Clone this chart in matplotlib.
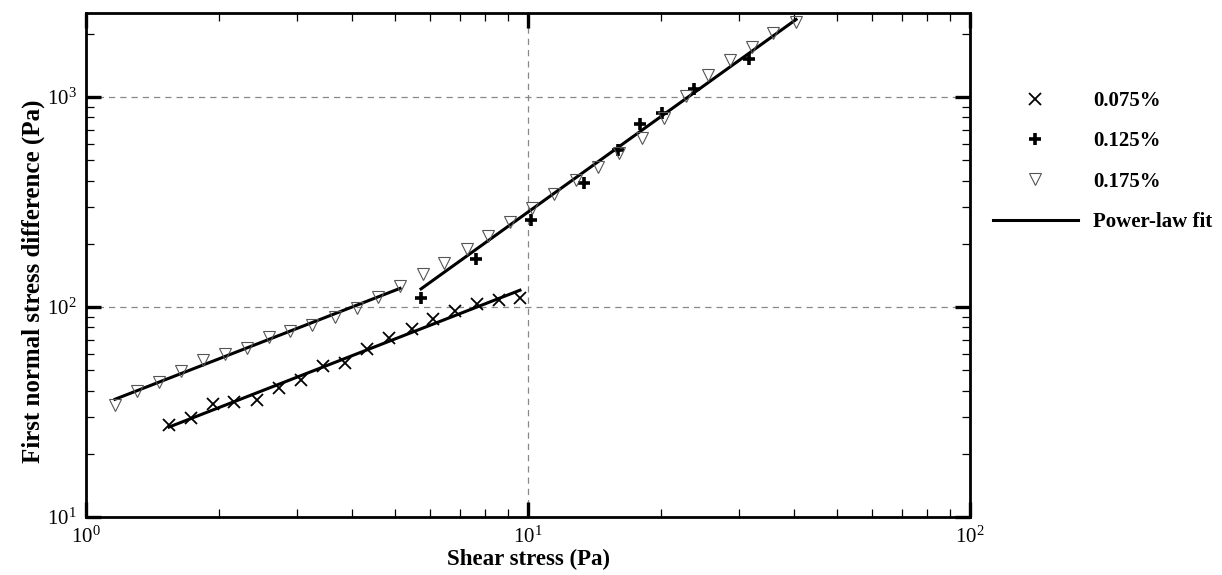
import matplotlib.pyplot as plt
import numpy as np
from matplotlib.lines import Line2D
from matplotlib.ticker import LogLocator, LogFormatterSciNotation

plt.rcParams['font.family'] = ['Liberation Serif', 'DejaVu Serif']
plt.rcParams['mathtext.fontset'] = 'stix'

# 0.075 %
x1 = np.array([1.541, 1.728, 1.939, 2.162, 2.437, 2.733, 3.065, 3.438, 3.855,
               4.323, 4.849, 5.47, 6.10, 6.84, 7.665, 8.60, 9.59])
y1 = np.array([27.4, 29.6, 34.5, 35.3, 36.1, 41.2, 44.9, 52.4, 54.1,
               63.1, 71.2, 78.6, 87.7, 95.7, 103.3, 108.0, 110.4])

# 0.125 %
x2 = np.array([5.727, 7.627, 10.16, 13.39, 15.98, 17.92, 20.10, 23.74, 31.62])
y2 = np.array([110.4, 169.3, 259.7, 389.5, 559.3, 743.5, 839.0, 1092, 1517])

# 0.175 %, low branch and high branch
x3a = np.array([1.163, 1.304, 1.463, 1.640, 1.840, 2.063, 2.314, 2.594, 2.894,
                3.246, 3.659, 4.104, 4.578, 5.133])
y3a = np.array([34.1, 39.8, 43.9, 49.6, 55.9, 59.7, 63.8, 72.0, 76.9,
                82.1, 89.6, 98.9, 111.6, 125.9])
x3b = np.array([5.787, 6.456, 7.278, 8.120, 9.106, 10.21, 11.45, 12.84, 14.40,
                16.07, 18.11, 20.31, 22.78, 25.54, 28.64, 32.13, 35.84, 40.40])
y3b = np.array([143.6, 162.0, 188.9, 217.8, 254.0, 296.0, 345.2, 402.5, 464.2,
                541.2, 637.9, 794.3, 1011, 1273, 1501, 1730, 2018, 2276])

labels = ['0.075%', '0.125%', '0.175%', 'Power-law fit']


def power_fit(x, y):
    n, logk = np.polyfit(np.log10(x), np.log10(y), 1)
    xx = np.geomspace(x.min(), x.max(), 50)
    return xx, 10**logk * xx**n


fig = plt.figure(figsize=(12.22, 5.75), dpi=100)
ax = fig.add_axes([0.0704, 0.1009, 0.7234, 0.8765])

for xs, ys in [(x1, y1), (x3a, y3a), (np.r_[x2, x3b], np.r_[y2, y3b])]:
    xf, yf = power_fit(xs, ys)
    ax.plot(xf, yf, color='black', lw=2.2, zorder=3)

ax.plot(x1, y1, ls='none', marker='x', ms=8.5, mew=1.3, color='black', zorder=4)
ax.plot(x2, y2, ls='none', marker='+', ms=9, mew=2.6, color='black', zorder=4)
ax.plot(np.r_[x3a, x3b], np.r_[y3a, y3b], ls='none', marker='v', ms=9, mew=0.8,
        mfc='none', mec='#555555', zorder=4)

ax.set_xscale('log')
ax.set_yscale('log')
ax.set_xlim(1, 100)
ax.set_ylim(10, 2512)

ax.xaxis.set_major_locator(LogLocator(base=10, numticks=10))
ax.yaxis.set_major_locator(LogLocator(base=10, numticks=10))
ax.xaxis.set_minor_locator(LogLocator(base=10, subs=np.arange(2, 10), numticks=10))
ax.yaxis.set_minor_locator(LogLocator(base=10, subs=np.arange(2, 10), numticks=10))
ax.xaxis.set_major_formatter(LogFormatterSciNotation())
ax.yaxis.set_major_formatter(LogFormatterSciNotation())

ax.tick_params(which='both', direction='in', top=True, right=True)
ax.tick_params(which='major', length=11, width=2.4, labelsize=15, pad=7)
ax.tick_params(which='minor', length=5.5, width=0.9)
for s in ax.spines.values():
    s.set_linewidth(2)

ax.grid(True, which='major', ls=(0, (5, 4)), color='#888888', lw=0.9)

ax.set_xlabel('Shear stress (Pa)', fontsize=16.5, fontweight='bold', labelpad=1)
ax.set_ylabel('First normal stress difference (Pa)', fontsize=18, fontweight='bold')
ax.yaxis.set_label_coords(-0.046, 0.468)

handles = [
    Line2D([], [], ls='none', marker='x', ms=8.5, mew=1.3, color='black'),
    Line2D([], [], ls='none', marker='+', ms=9, mew=2.6, color='black'),
    Line2D([], [], ls='none', marker='v', ms=9, mew=0.8, mfc='none', mec='#555555'),
    Line2D([], [], color='black', lw=2.2),
]
leg = fig.legend(handles, labels, loc='upper left', bbox_to_anchor=(0.8126, 0.842),
                 frameon=False, borderpad=0, borderaxespad=0, handlelength=4.08,
                 handletextpad=0.72, labelspacing=0.98,
                 prop={'family': 'Liberation Serif', 'weight': 'bold', 'size': 15})

fig.savefig('out.png', dpi=100)
